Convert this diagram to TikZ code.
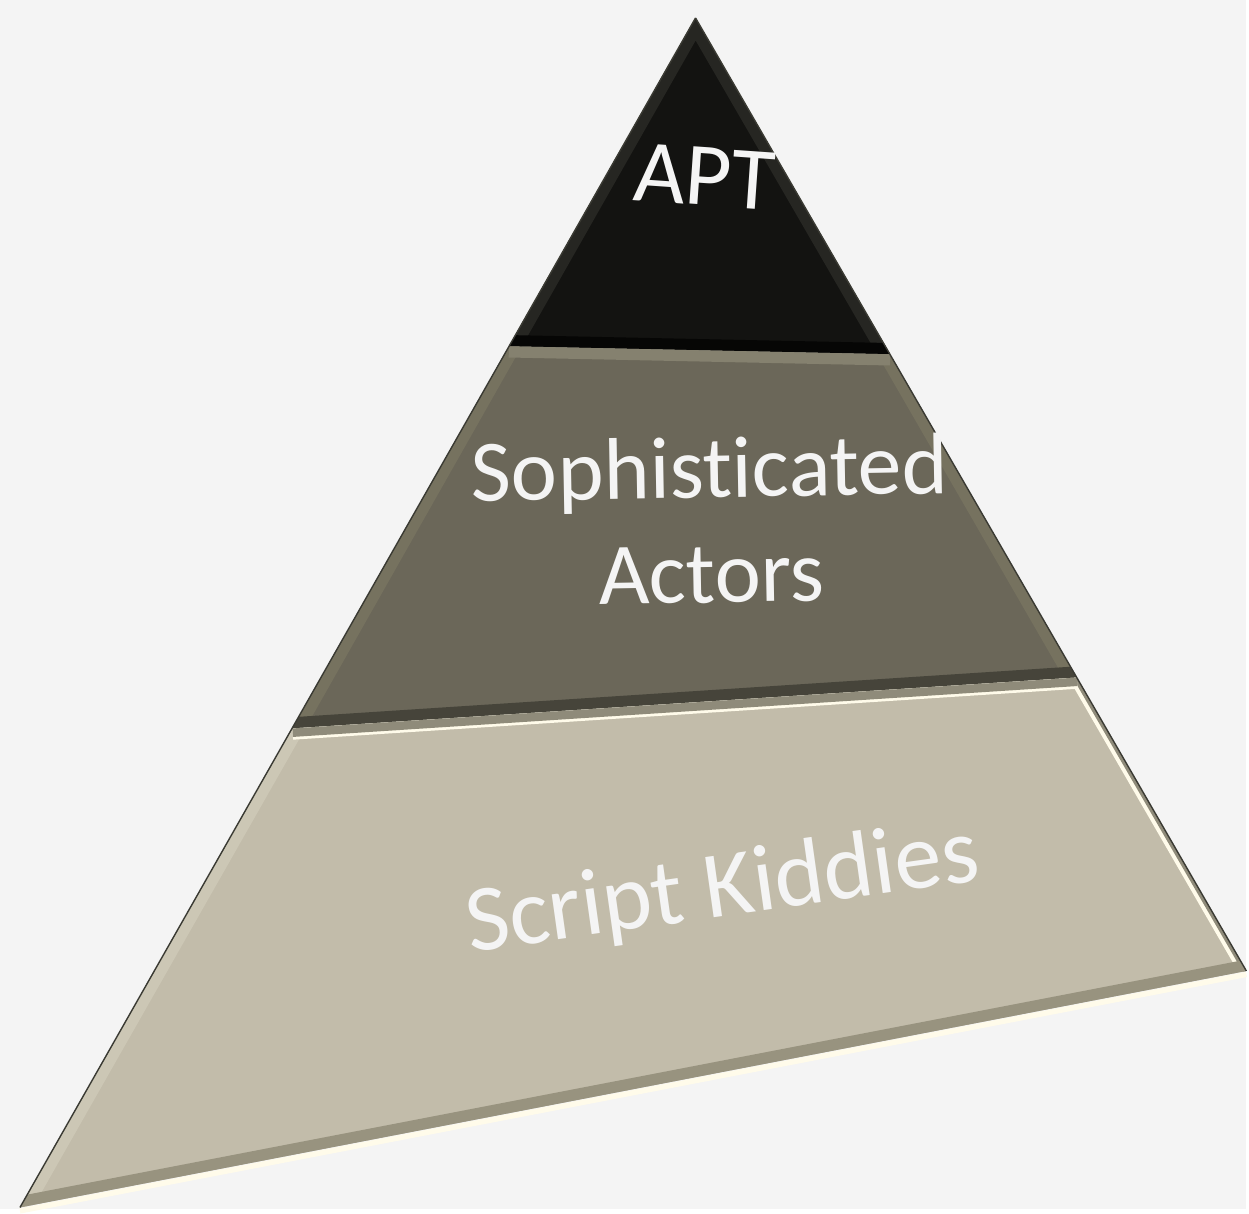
\documentclass[tikz,border=0pt]{standalone}
\usepackage{fontspec}
\setmainfont{Carlito}[Ligatures={NoCommon}]
\usetikzlibrary{positioning}

\definecolor{fondo}{HTML}{F4F4F4}
\definecolor{negro}{HTML}{131311}
\definecolor{negroluz}{HTML}{262622}
\definecolor{negrosombra}{HTML}{060605}
\definecolor{medio}{HTML}{6B6759}
\definecolor{medioluz}{HTML}{85816F}
\definecolor{mediolado}{HTML}{76725F}
\definecolor{mediosombra}{HTML}{46443A}
\definecolor{claro}{HTML}{C2BCAA}
\definecolor{claroluz}{HTML}{FFFBEA}
\definecolor{clarolado}{HTML}{CCC7B5}
\definecolor{claromedio}{HTML}{8F8B7A}
\definecolor{clarosombra}{HTML}{98937F}
\definecolor{filo}{HTML}{3A3A33}

\begin{document}
\begin{tikzpicture}[x=0.02cm, y=-0.02cm,
    etiqueta/.style={text=fondo, font=\fontsize{51}{60}\selectfont, align=center, inner sep=0pt},
    bisel/.style={line width=0.45cm}]

  \fill[fondo] (0,0) rectangle (1249,1212);

  % Vertices
  \coordinate (cima) at (697,18);
  \coordinate (n1izq) at (510,347);
  \coordinate (n1der) at (892,355);
  \coordinate (n2izq) at (293,730);
  \coordinate (n2der) at (1079,679);
  \coordinate (baseizq) at (20,1210);
  \coordinate (baseder) at (1249,973);

  % Nivel superior
  \begin{scope}
    \clip (cima) -- (n1der) -- (n1izq) -- cycle;
    \fill[negro] (cima) -- (n1der) -- (n1izq) -- cycle;
    \draw[bisel, negroluz] (n1izq) -- (cima) -- (n1der);
    \draw[bisel, negrosombra] (n1izq) -- (n1der);
  \end{scope}

  % Nivel medio
  \begin{scope}
    \clip (n1izq) -- (n1der) -- (n2der) -- (n2izq) -- cycle;
    \fill[medio] (n1izq) -- (n1der) -- (n2der) -- (n2izq) -- cycle;
    \draw[bisel, mediolado] (n1izq) -- (n2izq);
    \draw[bisel, mediolado] (n1der) -- (n2der);
    \draw[bisel, medioluz] (n1izq) -- (n1der);
    \draw[bisel, mediosombra] (n2izq) -- (n2der);
  \end{scope}

  % Nivel inferior
  \begin{scope}
    \clip (n2izq) -- (n2der) -- (baseder) -- (baseizq) -- cycle;
    \fill[claro] (n2izq) -- (n2der) -- (baseder) -- (baseizq) -- cycle;
    \draw[bisel, clarolado] (n2izq) -- (baseizq);
    \draw[line width=0.3cm, claroluz] (n2der) -- (baseder);
    \draw[line width=0.14cm, claromedio] (n2der) -- (baseder);
    \draw[bisel, claroluz] (n2izq) -- (n2der);
    \draw[line width=0.34cm, claromedio] (n2izq) -- (n2der);
    \draw[bisel, clarosombra] (baseizq) -- (baseder);
  \end{scope}

  % Filos
  \draw[filo, line width=0.8pt] (cima) -- (baseizq);
  \draw[filo, line width=0.8pt] (cima) -- (baseder);
  \draw[claroluz, line width=3pt] ([yshift=-2pt]baseizq) -- ([yshift=-2pt]baseder);

  % Textos
  \node[etiqueta, rotate=-4] (apt) at (706,177) {APT};
  \node[etiqueta, rotate=1, font=\fontsize{50}{60}\selectfont] (actores) at (712,521) {Sophisticated\\Actors};
  \node[etiqueta, rotate=8, font=\fontsize{54}{60}\selectfont] (novatos) at (724,893) {Script Kiddies};
\end{tikzpicture}
\end{document}
